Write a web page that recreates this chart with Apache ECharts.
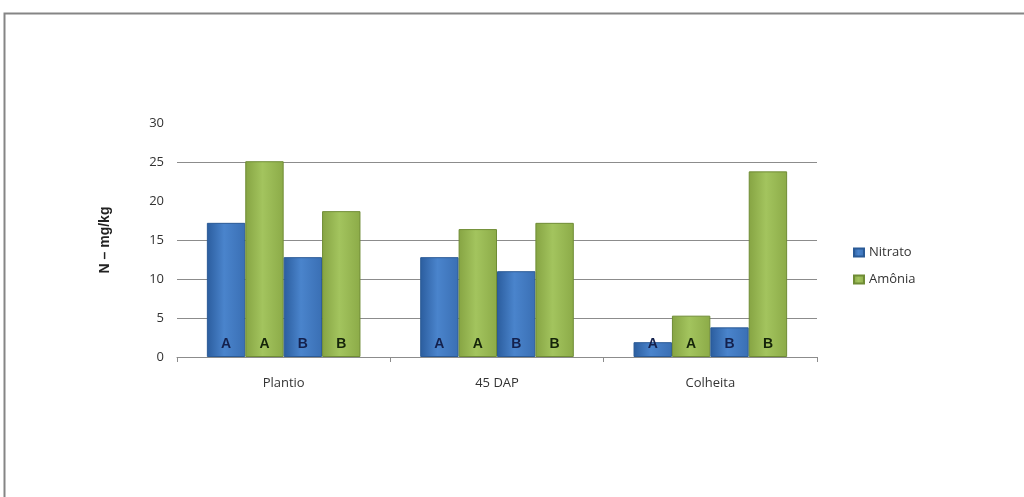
<!DOCTYPE html>
<html>
<head>
<meta charset="utf-8">
<script src="https://cdn.jsdelivr.net/npm/echarts@6/dist/echarts.min.js"></script>
<style>
html,body{margin:0;padding:0;background:#fff;}
#c{width:1024px;height:497px;}
</style>
</head>
<body>
<div id="c"></div>
<script>
var categories = ['Plantio', '45 DAP', 'Colheita'];
var nitratoA = [17.2, 12.8, 1.9];
var amoniaA = [25.1, 16.4, 5.3];
var nitratoB = [12.8, 11.0, 3.8];
var amoniaB = [18.7, 17.2, 23.8];
var groupLetters = ['A', 'A', 'B', 'B'];
var legendNames = ['Nitrato', 'Amônia'];

var blue = new echarts.graphic.LinearGradient(0, 0, 1, 0, [
  {offset: 0, color: '#2b5d9e'}, {offset: 0.45, color: '#4a84cc'}, {offset: 1, color: '#3a6fb4'}
]);
var green = new echarts.graphic.LinearGradient(0, 0, 1, 0, [
  {offset: 0, color: '#86a443'}, {offset: 0.45, color: '#a3c45e'}, {offset: 1, color: '#8cab48'}
]);
var blueBorder = '#2a5a96';
var greenBorder = '#6f8c35';

function mk(name, data, letter, color, border, labelColor) {
  return {
    name: name, type: 'bar', data: data,
    barGap: '0%', barCategoryGap: '28%',
    itemStyle: {color: color, borderColor: border, borderWidth: 1},
    label: {
      show: true, position: 'insideBottom', distance: 6,
      formatter: function(){ return letter; },
      fontFamily: 'Liberation Sans', fontWeight: 'bold', fontSize: 14,
      color: labelColor
    }
  };
}

var chart = echarts.init(document.getElementById('c'), null, {renderer: 'canvas'});
chart.setOption({
  animation: false,
  backgroundColor: '#fff',
  graphic: [{
    type: 'rect', shape: {x: 4.5, y: 13.5, width: 1030, height: 500},
    style: {fill: 'none', stroke: '#858585', lineWidth: 2}, silent: true
  }],
  grid: {left: 177, right: 207, top: 123, bottom: 140},
  legend: {
    data: legendNames, orient: 'vertical', left: 848, top: 241,
    itemWidth: 10, itemHeight: 8, itemGap: 14,
    icon: 'rect',
    textStyle: {fontFamily: 'Open Sans', fontSize: 13, color: '#333'}
  },
  xAxis: {
    type: 'category', data: categories,
    axisLine: {lineStyle: {color: '#8c8c8c', width: 1}},
    axisTick: {show: true, length: 5, lineStyle: {color: '#8c8c8c'}},
    axisLabel: {fontFamily: 'Open Sans', fontSize: 13, color: '#333', margin: 20}
  },
  yAxis: {
    type: 'value', min: 0, max: 30, interval: 5,
    name: 'N – mg/kg', nameLocation: 'middle', nameGap: 65, nameRotate: 90,
    nameTextStyle: {fontFamily: 'Liberation Sans', fontWeight: 'bold', fontSize: 14, color: '#222'},
    axisLine: {show: false}, axisTick: {show: false},
    axisLabel: {fontFamily: 'Open Sans', fontSize: 13, color: '#333', margin: 13},
    splitLine: {lineStyle: {color: ['#8c8c8c', '#8c8c8c', '#8c8c8c', '#8c8c8c', 'rgba(0,0,0,0)', '#8c8c8c', 'rgba(0,0,0,0)'], width: 1}}
  },
  series: [
    mk('Nitrato', nitratoA, groupLetters[0], blue, blueBorder, '#14214d'),
    mk('Amônia', amoniaA, groupLetters[1], green, greenBorder, '#15240a'),
    mk('Nitrato', nitratoB, groupLetters[2], blue, blueBorder, '#14214d'),
    mk('Amônia', amoniaB, groupLetters[3], green, greenBorder, '#15240a')
  ]
});
</script>
</body>
</html>
